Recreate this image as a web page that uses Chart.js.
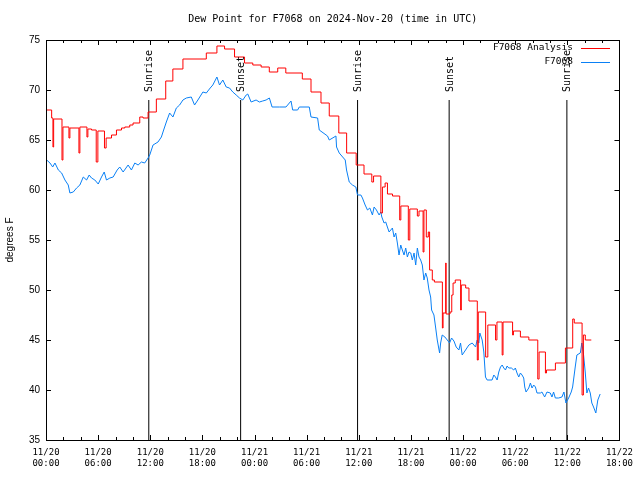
<!DOCTYPE html>
<html>
<head>
<meta charset="utf-8">
<script src="https://cdn.jsdelivr.net/npm/chart.js@4/dist/chart.umd.min.js"></script>
<style>
  html, body { margin: 0; padding: 0; background: #fff; }
  canvas { display: block; }
</style>
</head>
<body>
<canvas id="dew" width="640" height="480"></canvas>
<script>
// hours since 11/20 00:00 UTC
var chartTitle = 'Dew Point for F7068 on 2024-Nov-20 (time in UTC)'
var tickDates = ['11/20','11/20','11/20','11/20','11/21','11/21','11/21','11/21','11/22','11/22','11/22','11/22']
var tickTimes = ['00:00','06:00','12:00','18:00','00:00','06:00','12:00','18:00','00:00','06:00','12:00','18:00']

var eventHours = [11.83, 22.4, 35.86, 46.4, 59.95]
var eventNames = ['Sunrise','Sunset','Sunrise','Sunset','Sunrise']

// F7068 Analysis (step line, value holds from the hour given)
var analysisHours = [0, 0.65, 0.80, 0.88, 1.84, 1.95, 2.64, 2.75, 3.79, 3.90, 4.71, 4.82, 5.24, 5.78, 5.97, 6.73, 6.92,
  7.54, 8.11, 8.69, 9.07, 9.64, 10.02, 10.79, 11.17, 11.75, 12.70, 13.78, 14.60, 15.76, 18.45, 19.67, 20.55,
  21.7, 22.85, 23.8, 24.76, 25.7, 26.67, 27.6, 29.5, 30.5, 31.65, 32.6, 33.7, 34.6, 35.7, 36.6, 37.5, 37.7,
  38.54, 38.72, 39.03, 39.3, 39.88, 40.71, 40.84, 41.7, 41.87, 42.74, 42.93, 43.4, 43.5, 43.77, 44.0, 44.15,
  44.46, 44.7, 45.62, 45.7, 46.0, 46.05, 46.5, 46.7, 46.85, 47.1, 47.72, 47.8, 48.3, 48.68, 49.64, 49.75,
  50.6, 50.85, 51.74, 51.9, 52.5, 52.6, 53.7, 53.8, 54.6, 55.57, 56.6, 56.75, 57.48, 57.6, 58.63, 59.78,
  60.62, 60.8, 61.7, 61.85, 62.07, 62.76]
var analysisValues = [68.0, 67.2, 64.3, 67.1, 63.0, 66.3, 65.2, 66.2, 63.7, 66.3, 65.3, 66.1, 66.0, 62.8, 65.9, 64.2, 65.2,
  65.5, 66.0, 66.2, 66.3, 66.5, 66.7, 67.3, 67.2, 67.8, 69.1, 70.9, 72.1, 73.1, 73.7, 74.4, 74.1,
  73.3, 72.7, 72.5, 72.3, 71.8, 72.2, 71.7, 71.1, 69.8, 68.7, 67.4, 65.7, 63.7, 62.5, 61.6, 60.8, 61.4,
  57.7, 60.3, 60.7, 59.6, 59.4, 57.0, 58.4, 55.0, 58.1, 57.4, 57.9, 53.8, 58.0, 55.3, 55.8, 52.0,
  51.0, 50.8, 46.2, 47.7, 52.7, 47.6, 47.8, 49.5, 50.7, 51.0, 48.0, 50.5, 50.2, 48.9, 43.0, 47.8,
  43.3, 46.5, 45.0, 46.8, 43.5, 46.8, 45.5, 45.9, 45.3, 45.0, 41.1, 43.8, 41.7, 42.0, 42.7, 44.2,
  47.1, 46.7, 39.5, 45.5, 45.0, 45.0]

// F7068 observations
var obsHours = [0.08, 0.46, 0.77, 1.03, 1.42, 1.80, 2.18, 2.56, 2.75, 3.14, 3.52, 3.90, 4.29, 4.67, 4.97, 5.24, 5.62,
  6.01, 6.39, 6.70, 6.96, 7.35, 7.73, 8.19, 8.49, 8.88, 9.45, 9.83, 10.22, 10.6, 10.98, 11.36, 11.75, 11.94,
  12.32, 12.89, 13.28, 13.54, 13.85, 14.23, 14.61, 15.0, 15.38, 15.76, 16.15, 16.72, 17.1, 17.48, 18.06,
  18.45, 18.9, 19.2, 19.67, 19.97, 20.35, 20.74, 21.12, 21.5, 21.89, 22.27, 22.65, 23.04, 23.22, 23.61,
  24.18, 24.56, 24.94, 25.33, 25.71, 26.02, 26.86, 27.62, 28.2, 28.39, 28.96, 29.15, 30.3, 30.5, 31.26,
  31.45, 32.4, 32.6, 33.37, 33.44, 33.75, 34.44, 34.59, 34.9, 35.27, 35.66, 35.85, 36.24, 36.42, 36.73,
  37.0, 37.27, 37.57, 37.76, 38.03, 38.34, 38.53, 38.65, 38.91, 39.1, 39.29, 39.49, 39.87, 40.06, 40.25,
  40.44, 40.63, 40.83, 41.01, 41.21, 41.4, 41.59, 41.78, 41.98, 42.16, 42.36, 42.55, 42.74, 42.93, 43.12,
  43.31, 43.5, 43.7, 43.88, 44.08, 44.27, 44.38, 44.65, 44.85, 45.03, 45.3, 45.42, 45.6, 45.91, 46.18,
  46.45, 46.68, 46.95, 47.21, 47.52, 47.71, 47.9, 48.29, 48.67, 49.05, 49.44, 49.62, 49.82, 49.93, 50.2,
  50.39, 50.58, 50.77, 51.34, 51.54, 51.73, 51.92, 52.11, 52.31, 52.5, 52.69, 52.88, 53.07, 53.26, 53.56,
  53.83, 54.02, 54.21, 54.41, 54.6, 54.79, 54.98, 55.1, 55.25, 55.56, 55.75, 55.94, 56.13, 56.33, 56.51,
  56.9, 57.08, 57.39, 57.66, 58.04, 58.23, 58.42, 58.62, 59.0, 59.38, 59.61, 59.84, 60.15, 60.45, 60.61,
  60.91, 61.1, 61.49, 61.67, 61.87, 62.06, 62.25, 62.44, 62.64, 62.82, 63.02, 63.28, 63.51, 63.78]
var obsValues = [63.0, 62.7, 62.3, 62.7, 62.0, 61.7, 61.0, 60.5, 59.7, 59.8, 60.2, 60.5, 61.3, 61.0, 61.5, 61.2, 61.0,
  60.6, 61.3, 61.8, 61.0, 61.2, 61.3, 62.0, 62.3, 61.8, 62.5, 62.0, 62.7, 62.5, 62.8, 62.7, 63.2, 63.5,
  64.5, 64.8, 65.3, 66.0, 66.8, 67.7, 67.3, 68.2, 68.5, 69.0, 69.2, 69.3, 68.5, 69.0, 69.8,
  69.7, 70.2, 70.5, 71.3, 70.5, 71.0, 70.3, 70.2, 69.8, 69.5, 69.2, 69.0, 69.5, 69.6, 68.8,
  69.0, 68.8, 68.9, 69.0, 69.2, 68.3, 68.3, 68.3, 68.9, 68.0, 68.0, 68.3, 68.3, 67.3, 67.2,
  66.0, 65.4, 65.0, 65.4, 64.3, 63.7, 63.0, 62.0, 60.8, 60.5, 60.3, 59.5, 59.5, 59.2, 58.5,
  58.0, 58.2, 57.5, 58.3, 58.0, 57.5, 57.8, 57.3, 56.7, 56.8, 56.3, 55.8, 56.2, 55.3, 55.7,
  54.7, 53.5, 54.5, 54.0, 53.5, 54.2, 53.3, 53.8, 53.7, 53.0, 53.7, 52.5, 54.2, 53.3, 53.0,
  52.5, 51.0, 51.7, 51.2, 50.0, 49.3, 48.0, 47.5, 46.2, 45.0, 43.7, 44.7, 45.5, 45.3, 45.0,
  44.7, 45.2, 44.9, 44.3, 44.0, 44.7, 43.5, 44.0, 44.5, 44.7, 44.3, 45.0, 44.7, 45.7, 45.0,
  43.8, 41.3, 41.0, 41.0, 41.5, 41.3, 41.0, 41.8, 42.3, 42.5, 42.2, 42.0, 42.4, 42.2, 42.2,
  42.0, 42.2, 41.7, 41.3, 41.7, 41.5, 41.2, 40.3, 39.8, 40.2, 40.7, 40.2, 40.5, 40.3, 39.7,
  39.7, 39.8, 39.3, 39.8, 39.7, 39.3, 39.8, 39.2, 39.2, 39.3, 39.8, 38.7, 39.2, 39.8, 40.3,
  42.3, 43.5, 43.7, 44.7, 43.5, 41.8, 39.7, 40.2, 39.7, 38.7, 38.3, 37.7, 39.0, 39.6]

var RED = '#ff0000'
var BLUE = '#0a80f5'
var MONO = '"DejaVu Sans Mono", "Liberation Mono", monospace'
var SANS = '"Liberation Sans", "DejaVu Sans", sans-serif'

function pairs(xs, ys) {
    var out = []
    for (var i = 0; i < xs.length; i++) out.push({x: xs[i], y: ys[i]})
    return out
}

var datasets = [
    {label: 'F7068 Analysis', data: pairs(analysisHours, analysisValues), borderColor: RED, borderWidth: 1, stepped: true, pointRadius: 0, fill: false},
    {label: 'F7068', data: pairs(obsHours, obsValues), borderColor: BLUE, borderWidth: 1, pointRadius: 0, tension: 0, fill: false}
]
for (var i = 0; i < eventHours.length; i++) {
    datasets.push({label: eventNames[i], data: [{x: eventHours[i], y: 35}, {x: eventHours[i], y: 69}],
        borderColor: '#000', borderWidth: 1, pointRadius: 0})
}

// title, frame, inward ticks, sunrise/sunset labels and the legend
var decor = {
    id: 'decor',
    afterDraw: function (chart) {
        var ctx = chart.ctx, a = chart.chartArea
        var xs = chart.scales.x, ys = chart.scales.y
        ctx.save()
        ctx.fillStyle = '#000'
        ctx.font = '10px ' + MONO
        ctx.textAlign = 'center'
        ctx.textBaseline = 'middle'
        ctx.fillText(chartTitle, (a.left + a.right) / 2, 19)

        ctx.strokeStyle = '#000'
        ctx.lineWidth = 1
        ctx.beginPath()
        for (var h = 0; h <= 66; h += 2) {
            var px = Math.round(xs.getPixelForValue(h)) + 0.5
            var len = (h % 6 === 0) ? 5 : 3
            ctx.moveTo(px, a.bottom); ctx.lineTo(px, a.bottom - len)
            ctx.moveTo(px, a.top); ctx.lineTo(px, a.top + len)
        }
        for (var v = 35; v <= 75; v += 5) {
            var py = Math.round(ys.getPixelForValue(v)) + 0.5
            ctx.moveTo(a.left, py); ctx.lineTo(a.left + 5, py)
            ctx.moveTo(a.right, py); ctx.lineTo(a.right - 5, py)
        }
        ctx.stroke()
        ctx.strokeRect(Math.round(a.left) + 0.5, Math.round(a.top) + 0.5, Math.round(a.right - a.left), Math.round(a.bottom - a.top))

        ctx.textAlign = 'left'
        for (var i = 0; i < eventHours.length; i++) {
            var ex = xs.getPixelForValue(eventHours[i]) + 1
            ctx.save()
            ctx.translate(ex, ys.getPixelForValue(69) - 8)
            ctx.rotate(-Math.PI / 2)
            ctx.fillText(eventNames[i], 0, 0)
            ctx.restore()
        }

        ctx.font = '9.5px ' + MONO
        var rows = [[datasets[0].label, RED, 48], [datasets[1].label, BLUE, 62]]
        rows.forEach(function (r) {
            ctx.fillStyle = '#000'
            ctx.textAlign = 'right'
            ctx.fillText(r[0], 573, r[2])
            ctx.strokeStyle = r[1]
            ctx.beginPath()
            ctx.moveTo(581, r[2] + 0.5); ctx.lineTo(610, r[2] + 0.5)
            ctx.stroke()
        })
        ctx.restore()
    }
}

new Chart(document.getElementById('dew'), {
    type: 'line',
    data: {datasets: datasets},
    plugins: [decor],
    options: {
        responsive: false,
        animation: false,
        layout: {padding: {top: 40, right: 19, left: 0, bottom: 0}},
        plugins: {
            legend: {display: false},
            tooltip: {enabled: false},
            title: {display: false}
        },
        scales: {
            x: {
                type: 'linear',
                min: 0,
                max: 66,
                border: {display: false},
                grid: {display: false, drawTicks: false},
                afterFit: function (s) { s.height = 40 },
                ticks: {
                    stepSize: 6,
                    autoSkip: false,
                    maxRotation: 0,
                    padding: 7,
                    color: '#000',
                    font: {family: MONO, size: 9},
                    callback: function (v) {
                        var k = Math.round(v / 6)
                        return [tickDates[k], tickTimes[k]]
                    }
                }
            },
            y: {
                min: 35,
                max: 75,
                border: {display: false},
                grid: {display: false, drawTicks: false},
                afterFit: function (s) { s.width = 46 },
                title: {display: true, text: 'degrees F', color: '#000', font: {family: SANS, size: 10}, padding: {top: 4, bottom: 0}},
                ticks: {stepSize: 5, padding: 6, color: '#000', font: {family: SANS, size: 10}}
            }
        }
    }
})
</script>
</body>
</html>
